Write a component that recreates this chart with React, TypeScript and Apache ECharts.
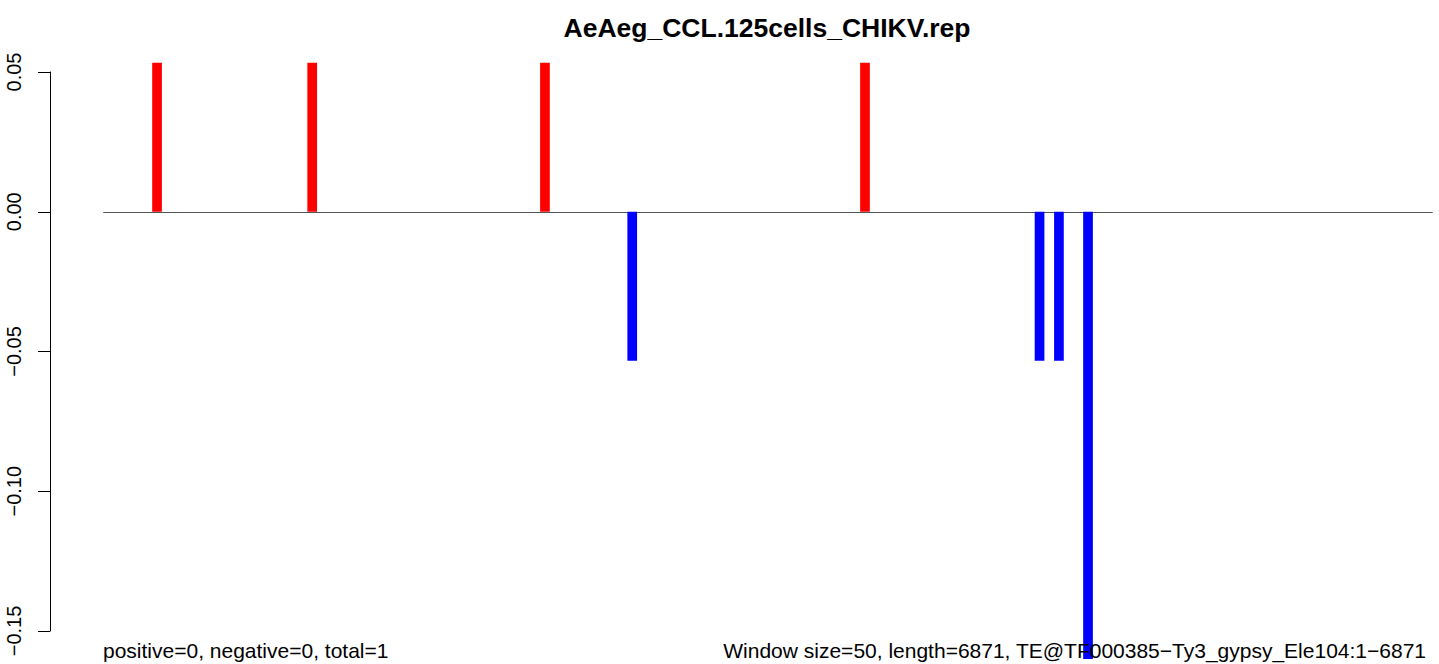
import React, { useEffect, useRef } from "react";
import * as echarts from "echarts";

const TITLE = "AeAeg_CCL.125cells_CHIKV.rep";
const FOOT_LEFT = "positive=0, negative=0, total=1";
const FOOT_RIGHT = "Window size=50, length=6871, TE@TF000385\u2212Ty3_gypsy_Ele104:1\u22126871";
const WINDOW_COUNT = 137;
const barWindows = [5, 21, 45, 54, 78, 96, 98, 101];
const barValues = [0.0533, 0.0533, 0.0533, -0.0533, 0.0533, -0.0533, -0.0533, -0.16];
const yTicks = [-0.15, -0.1, -0.05, 0, 0.05];

const FONT = "'Liberation Sans', Arial, Helvetica, sans-serif";

export default function App() {
  const ref = useRef<HTMLDivElement>(null);
  useEffect(() => {
    if (!ref.current) return;
    const chart = echarts.init(ref.current, null, { renderer: "svg" });
    const categories = Array.from({ length: WINDOW_COUNT }, (_, i) => String(i + 1));
    const values = categories.map(() => 0 as number);
    barWindows.forEach((w, i) => {
      values[w] = barValues[i];
    });
    const data = values.map((v) => ({
      value: v,
      itemStyle: { color: v >= 0 ? "#ff0000" : "#0000ff" },
    }));
    chart.setOption({
      animation: false,
      backgroundColor: "#ffffff",
      grid: { left: 103.7, width: 1328.6, top: 72, height: 559, containLabel: false },
      xAxis: {
        type: "category",
        data: categories,
        boundaryGap: true,
        axisLine: { show: true, onZero: true, lineStyle: { color: "#555555", width: 1 } },
        axisTick: { show: false },
        axisLabel: { show: false },
        splitLine: { show: false },
      },
      yAxis: {
        type: "value",
        min: yTicks[0],
        max: yTicks[yTicks.length - 1],
        interval: 0.05,
        offset: 53.7,
        axisLine: { show: true, lineStyle: { color: "#000000", width: 1 } },
        axisTick: { show: true, length: 12, lineStyle: { color: "#000000", width: 1 } },
        splitLine: { show: false },
        axisLabel: {
          rotate: 90,
          margin: 26,
          color: "#000000",
          fontSize: 20,
          fontFamily: FONT,
          formatter: (v: number) => {
            const s = Math.abs(v).toFixed(2);
            return v < -1e-9 ? "\u2212" + s : s;
          },
        },
      },
      series: [
        {
          type: "bar",
          data,
          barCategoryGap: 0,
          barGap: 0,
          clip: false,
          z: 2,
        },
      ],
      graphic: [
        {
          type: "text",
          x: 767,
          y: 28,
          z: 100,
          style: {
            text: TITLE,
            fontSize: 26.5,
            fontWeight: "bold",
            fontFamily: FONT,
            fill: "#000000",
            align: "center",
            verticalAlign: "middle",
          },
        },
        {
          type: "text",
          x: 103,
          y: 650,
          z: 100,
          style: {
            text: FOOT_LEFT,
            fontSize: 21,
            fontFamily: FONT,
            fill: "#000000",
            verticalAlign: "middle",
          },
        },
        {
          type: "text",
          x: 1426,
          y: 650,
          z: 100,
          style: {
            text: FOOT_RIGHT,
            fontSize: 21,
            fontFamily: FONT,
            fill: "#000000",
            align: "right",
            verticalAlign: "middle",
          },
        },
      ],
    });
    return () => chart.dispose();
  }, []);
  return (
    <div
      ref={ref}
      style={{ position: "fixed", left: 0, top: 0, width: 1439, height: 664, background: "#fff" }}
    />
  );
}
